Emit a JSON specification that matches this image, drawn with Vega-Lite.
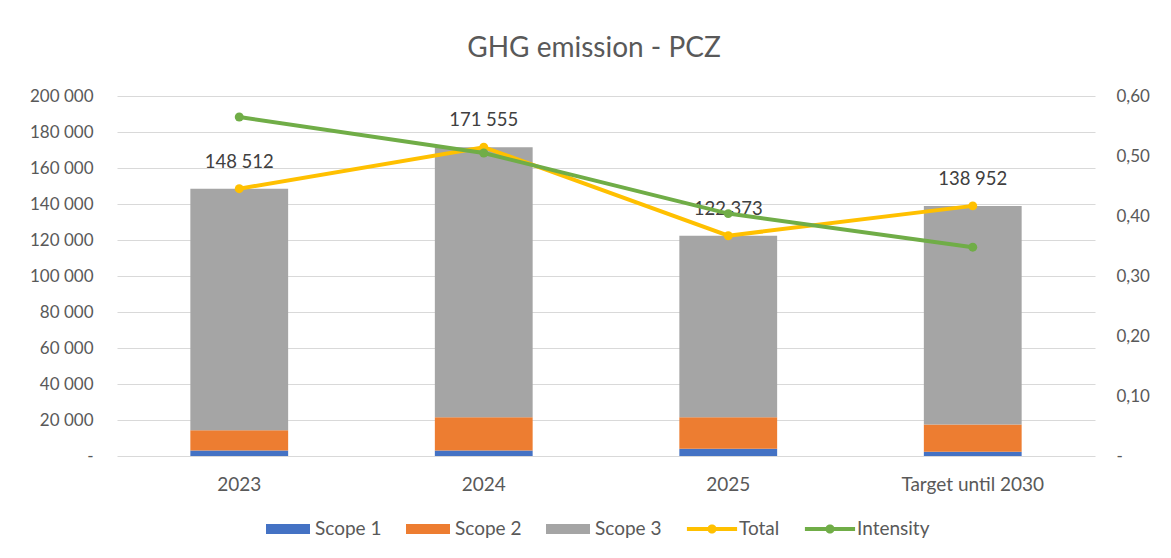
{
  "$schema": "https://vega.github.io/schema/vega-lite/v6.json",
  "width": 978,
  "height": 360,
  "autosize": "none",
  "padding": {"left": 117, "top": 96, "right": 76, "bottom": 102},
  "background": "white",
  "title": {"text": "GHG emission - PCZ", "fontSize": 28, "font": "Lato", "fontWeight": "normal", "color": "#595959", "anchor": "middle", "offset": 24, "dx": -12},
  "data": {"values": [
    {"year": "2023", "series": "Scope 1", "value": 3000},
    {"year": "2024", "series": "Scope 1", "value": 3000},
    {"year": "2025", "series": "Scope 1", "value": 4000},
    {"year": "Target until 2030", "series": "Scope 1", "value": 2300},
    {"year": "2023", "series": "Scope 2", "value": 11300},
    {"year": "2024", "series": "Scope 2", "value": 18500},
    {"year": "2025", "series": "Scope 2", "value": 17500},
    {"year": "Target until 2030", "series": "Scope 2", "value": 15200},
    {"year": "2023", "series": "Scope 3", "value": 134212},
    {"year": "2024", "series": "Scope 3", "value": 150055},
    {"year": "2025", "series": "Scope 3", "value": 100873},
    {"year": "Target until 2030", "series": "Scope 3", "value": 121452},
    {"year": "2023", "series": "Total", "value": 148512, "label": "148 512"},
    {"year": "2024", "series": "Total", "value": 171555, "label": "171 555"},
    {"year": "2025", "series": "Total", "value": 122373, "label": "122 373"},
    {"year": "Target until 2030", "series": "Total", "value": 138952, "label": "138 952"},
    {"year": "2023", "series": "Intensity", "value": 0.565},
    {"year": "2024", "series": "Intensity", "value": 0.505},
    {"year": "2025", "series": "Intensity", "value": 0.404},
    {"year": "Target until 2030", "series": "Intensity", "value": 0.348}
  ]},
  "encoding": {
    "x": {"field": "year", "type": "nominal", "sort": ["2023", "2024", "2025", "Target until 2030"],
      "scale": {"paddingInner": 0.6, "paddingOuter": 0.3},
      "axis": {"labelAngle": 0, "labelPadding": 19, "labelFontSize": 19, "title": null, "domain": false, "ticks": false, "grid": false}}
  },
  "layer": [
    {
      "encoding": {
        "y": {"field": "value", "type": "quantitative", "scale": {"domain": [0, 200000], "nice": false},
          "axis": {"values": [0, 20000, 40000, 60000, 80000, 100000, 120000, 140000, 160000, 180000, 200000],
            "labelExpr": "datum.value == 0 ? '-' : replace(format(datum.value, ',.0f'), ',', ' ')",
            "grid": true, "gridColor": "#d9d9d9", "gridWidth": 1, "labelPadding": 24, "tickSize": 0, "title": null}}
      },
      "layer": [
        {
          "transform": [{"filter": "indexof(['Scope 1','Scope 2','Scope 3'], datum.series) >= 0"}],
          "mark": {"type": "bar"},
          "encoding": {
            "color": {"field": "series", "type": "nominal",
              "scale": {"domain": ["Scope 1", "Scope 2", "Scope 3", "Total", "Intensity"], "range": ["#4472C4", "#ED7D31", "#A5A5A5", "#FFC000", "#70AD47"]},
              "legend": {"title": null, "orient": "none", "legendX": 149, "legendY": 411, "direction": "horizontal",
                "labelFontSize": 19, "labelColor": "#595959", "labelFont": "Lato", "symbolSize": 1936, "columnPadding": 24, "labelOffset": 5,
                "encode": {"symbols": {"update": {
                  "shape": {"signal": "datum.value === 'Total' || datum.value === 'Intensity' ? 'M-1.14,-0.09H1.14V0.09H-1.14Z M-0.21,0A0.21,0.21 0 1,1 0.21,0A0.21,0.21 0 1,1 -0.21,0Z' : 'M-1,-0.23H1V0.23H-1Z'"},
                  "fill": {"scale": "color", "field": "value"},
                  "strokeWidth": {"value": 0},
                  "opacity": {"value": 1}}}}}},
            "order": {"field": "series", "sort": "ascending"}
          }
        },
        {
          "transform": [{"filter": "datum.series === 'Total'"}],
          "mark": {"type": "line", "color": "#FFC000", "strokeWidth": 4}
        },
        {
          "transform": [{"filter": "datum.series === 'Total'"}],
          "mark": {"type": "point", "filled": true, "color": "#FFC000", "size": 80, "opacity": 1}
        },
        {
          "transform": [{"filter": "datum.series === 'Total'"}],
          "mark": {"type": "text", "dy": -27, "fontSize": 18.5, "color": "#404040", "font": "Lato"},
          "encoding": {"text": {"field": "label"}}
        }
      ]
    },
    {
      "transform": [{"filter": "datum.series === 'Intensity'"}],
      "encoding": {
        "y": {"field": "value", "type": "quantitative", "scale": {"domain": [0, 0.6], "nice": false},
          "axis": {"orient": "right", "values": [0, 0.1, 0.2, 0.3, 0.4, 0.5, 0.6],
            "labelExpr": "datum.value == 0 ? '-' : replace(format(datum.value, '.2f'), '.', ',')",
            "grid": false, "labelPadding": 21, "tickSize": 0, "title": null}}
      },
      "layer": [
        {"mark": {"type": "line", "color": "#70AD47", "strokeWidth": 4}},
        {"mark": {"type": "point", "filled": true, "color": "#70AD47", "size": 80, "opacity": 1}}
      ]
    }
  ],
  "resolve": {"scale": {"y": "independent"}},
  "config": {
    "font": "Lato",
    "view": {"stroke": null},
    "axis": {"labelFont": "Lato", "labelFontSize": 17, "labelColor": "#595959", "domain": false, "ticks": false, "title": null}
  }
}
